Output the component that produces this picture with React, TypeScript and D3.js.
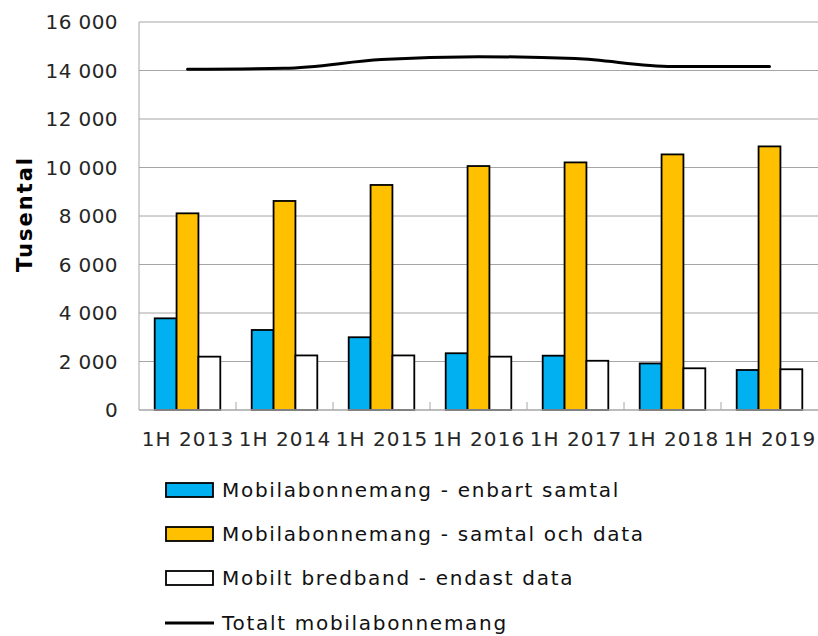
import React, { useRef, useEffect } from 'react';
import * as d3 from 'd3';

const categories = ['1H 2013', '1H 2014', '1H 2015', '1H 2016', '1H 2017', '1H 2018', '1H 2019'];
const enbartSamtal = [3780, 3300, 3000, 2340, 2240, 1920, 1650];
const samtalOchData = [8110, 8620, 9280, 10060, 10210, 10540, 10870];
const endastData = [2200, 2250, 2250, 2200, 2030, 1720, 1680];
const totalt = [14050, 14090, 14450, 14570, 14490, 14160, 14160];
const yTicks = [0, 2000, 4000, 6000, 8000, 10000, 12000, 14000, 16000];

const barSeries = [
  { name: 'Mobilabonnemang - enbart samtal', values: enbartSamtal, color: '#00B0F0' },
  { name: 'Mobilabonnemang - samtal och data', values: samtalOchData, color: '#FFC000' },
  { name: 'Mobilt bredband - endast data', values: endastData, color: '#FFFFFF' },
];
const lineName = 'Totalt mobilabonnemang';

// Verdana-ish look: DejaVu Sans widened a bit with letter spacing
const FONT = '"DejaVu Sans", Verdana, sans-serif';
const TEXT = '#262626';

const App = () => {
  const ref = useRef<SVGSVGElement>(null);
  const width = 818;
  const height = 636;
  const left = 139;
  const right = 818;
  const top = 22;
  const bottom = 410;

  useEffect(() => {
    if (!ref.current) return;
    const svg = d3.select(ref.current);
    svg.selectAll('*').remove();

    const x = d3.scaleBand<string>().domain(categories).range([left, right]);
    const xInner = d3
      .scaleBand<string>()
      .domain(barSeries.map(s => s.name))
      .range([15.7, x.bandwidth() - 15.7]);
    const y = d3.scaleLinear().domain([0, 16000]).range([bottom, top]);

    // gridlines
    svg
      .append('g')
      .selectAll('line')
      .data(yTicks.filter(t => t > 0))
      .enter()
      .append('line')
      .attr('x1', left)
      .attr('x2', right)
      .attr('y1', d => y(d))
      .attr('y2', d => y(d))
      .attr('stroke', '#a6a6a6')
      .attr('stroke-width', 1);

    // y tick labels
    const fmt = (v: number) => d3.format(',')(v).replace(/,/g, ' ');
    svg
      .append('g')
      .selectAll('text')
      .data(yTicks)
      .enter()
      .append('text')
      .attr('x', 118)
      .attr('y', d => y(d))
      .attr('dy', '0.36em')
      .attr('text-anchor', 'end')
      .attr('font-family', FONT)
      .attr('font-size', 20)
      .attr('letter-spacing', 0.4)
      .attr('fill', TEXT)
      .text(fmt);

    // axis title
    svg
      .append('text')
      .attr('transform', 'translate(32,214) rotate(-90)')
      .attr('text-anchor', 'middle')
      .attr('font-family', FONT)
      .attr('font-size', 21)
      .attr('font-weight', 'bold')
      .attr('letter-spacing', 2)
      .attr('fill', '#000')
      .text('Tusental');

    // bars
    barSeries.forEach(s => {
      svg
        .append('g')
        .selectAll('rect')
        .data(s.values)
        .enter()
        .append('rect')
        .attr('x', (d, i) => (x(categories[i]) as number) + (xInner(s.name) as number))
        .attr('y', d => y(d))
        .attr('width', xInner.bandwidth())
        .attr('height', d => bottom - y(d))
        .attr('fill', s.color)
        .attr('stroke', '#000')
        .attr('stroke-width', 1.8);
    });

    // axes
    svg
      .append('line')
      .attr('x1', left)
      .attr('x2', left)
      .attr('y1', top)
      .attr('y2', bottom)
      .attr('stroke', '#a6a6a6');
    svg
      .append('line')
      .attr('x1', left)
      .attr('x2', right)
      .attr('y1', bottom)
      .attr('y2', bottom)
      .attr('stroke', '#a6a6a6')
      .attr('stroke-width', 1.5);
    svg
      .append('g')
      .selectAll('line')
      .data(categories.slice(1))
      .enter()
      .append('line')
      .attr('x1', d => x(d) as number)
      .attr('x2', d => x(d) as number)
      .attr('y1', bottom - 8)
      .attr('y2', bottom)
      .attr('stroke', '#a6a6a6');

    // x labels
    svg
      .append('g')
      .selectAll('text')
      .data(categories)
      .enter()
      .append('text')
      .attr('x', d => (x(d) as number) + x.bandwidth() / 2 + 0.5)
      .attr('y', 446)
      .attr('text-anchor', 'middle')
      .attr('font-family', FONT)
      .attr('font-size', 20)
      .attr('letter-spacing', 1.1)
      .attr('fill', TEXT)
      .text(d => d);

    // total line
    const line = d3
      .line<number>()
      .x((d, i) => (x(categories[i]) as number) + x.bandwidth() / 2)
      .y(d => y(d))
      .curve(d3.curveMonotoneX);
    svg
      .append('path')
      .attr('d', line(totalt))
      .attr('fill', 'none')
      .attr('stroke', '#000')
      .attr('stroke-width', 3)
      .attr('stroke-linecap', 'round');

    // legend
    const legend = svg.append('g');
    barSeries.forEach((s, i) => {
      const cy = 490 + i * 44;
      legend
        .append('rect')
        .attr('x', 166)
        .attr('y', cy - 7)
        .attr('width', 47)
        .attr('height', 14)
        .attr('fill', s.color)
        .attr('stroke', '#000')
        .attr('stroke-width', 1.8);
      legend
        .append('text')
        .attr('x', 222)
        .attr('y', cy)
        .attr('dy', '0.36em')
        .attr('font-family', FONT)
        .attr('font-size', 20)
        .attr('letter-spacing', 1.7)
        .attr('fill', '#111')
        .text(s.name);
    });
    legend
      .append('line')
      .attr('x1', 165)
      .attr('x2', 214)
      .attr('y1', 623)
      .attr('y2', 623)
      .attr('stroke', '#000')
      .attr('stroke-width', 3);
    legend
      .append('text')
      .attr('x', 222)
      .attr('y', 623)
      .attr('dy', '0.36em')
      .attr('font-family', FONT)
      .attr('font-size', 20)
      .attr('letter-spacing', 1.7)
      .attr('fill', '#111')
      .text(lineName);
  }, []);

  return (
    <svg
      ref={ref}
      width={width}
      height={height}
      style={{ position: 'absolute', left: 0, top: 0, background: '#fff' }}
    />
  );
};

export default App;
